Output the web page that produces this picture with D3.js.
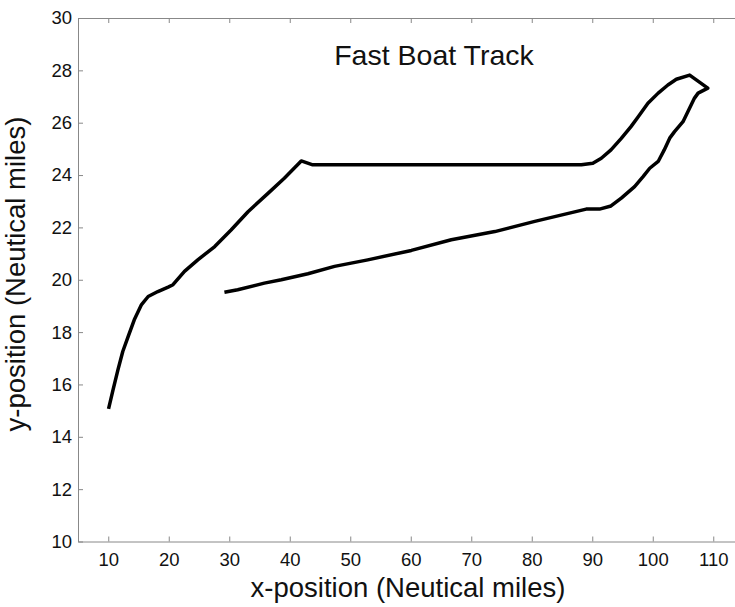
<!DOCTYPE html>
<html>
<head>
<meta charset="utf-8">
<script src="https://cdn.jsdelivr.net/npm/d3@7"></script>
<style>
  body { margin: 0; background: #fff; }
  svg { display: block; }
  .axis path, .axis line { stroke: #888; }
  .axis text { font-family: "Liberation Sans", Arial, sans-serif; font-size: 18.5px; fill: #111; }
  .label { font-family: "Liberation Sans", Arial, sans-serif; fill: #111; }
</style>
</head>
<body>
<div id="chartArea"></div>
<script>
// Daten: Bahn des Bootes (x, y in Seemeilen), in Fahrtrichtung
const trackX = [10.05, 10.8, 11.6, 12.4, 13.3, 14.3, 15.5, 16.6, 18.2, 19.9, 20.7, 22.6, 24.8, 27.6, 30.3, 33.1, 36.4, 39.1, 41.9,
  43.8, 60, 88.2, 90.1, 91.5, 93.1, 94.8, 96.4, 97.6, 99.2, 100.9, 102.5, 103.9, 106.1, 109.1,
  107.5, 106.9, 105.8, 105.0, 103.6, 102.8, 101.9, 100.9, 99.5, 98.4, 97.0, 94.8, 93.1, 91.2, 89.0,
  80.5, 73.9, 66.7, 60.1, 52.9, 47.4, 43.0, 38.6, 35.8, 31.4, 29.2];
const trackY = [15.07, 15.8, 16.56, 17.26, 17.84, 18.47, 19.05, 19.36, 19.55, 19.72, 19.81, 20.32, 20.76, 21.27, 21.9, 22.6, 23.3, 23.88, 24.54,
  24.39, 24.39, 24.39, 24.45, 24.64, 24.96, 25.4, 25.85, 26.23, 26.74, 27.13, 27.44, 27.66, 27.82, 27.32,
  27.13, 26.94, 26.42, 26.04, 25.66, 25.41, 24.96, 24.52, 24.26, 23.94, 23.56, 23.12, 22.82, 22.7, 22.7,
  22.23, 21.84, 21.53, 21.12, 20.76, 20.51, 20.23, 20.0, 19.87, 19.62, 19.52];
const xTicks = [10, 20, 30, 40, 50, 60, 70, 80, 90, 100, 110];
const yTicks = [10, 12, 14, 16, 18, 20, 22, 24, 26, 28, 30];

const width = 735, height = 607;
const plotLeft = 78, plotTop = 18, plotBottom = 541.5, plotRight = 743.5;

const svg = d3.select("#chartArea").append("svg")
    .attr("width", width)
    .attr("height", height);

const xScale = d3.scaleLinear().domain([5, 115]).range([plotLeft, plotRight]);
const yScale = d3.scaleLinear().domain([10, 30]).range([plotBottom, plotTop]);

// Achsen (Ticks nach innen)
svg.append("g")
    .attr("class", "axis")
    .attr("transform", `translate(0,${plotBottom})`)
    .call(d3.axisBottom(xScale).tickValues(xTicks).tickSizeInner(-5).tickSizeOuter(0).tickPadding(11));

svg.append("g")
    .attr("class", "axis")
    .attr("transform", `translate(0,${plotTop})`)
    .call(d3.axisTop(xScale).tickValues(xTicks).tickSizeInner(-5).tickSizeOuter(0).tickFormat(""));

svg.append("g")
    .attr("class", "axis")
    .attr("transform", `translate(${plotLeft},0)`)
    .call(d3.axisLeft(yScale).tickValues(yTicks).tickSizeInner(-5).tickSizeOuter(0).tickPadding(6));

svg.append("g")
    .attr("class", "axis")
    .attr("transform", `translate(${plotRight},0)`)
    .call(d3.axisRight(yScale).tickValues(yTicks).tickSizeInner(-5).tickSizeOuter(0).tickFormat(""));

// Linie
const line = d3.line()
    .x((d, i) => xScale(trackX[i]))
    .y((d, i) => yScale(trackY[i]));

svg.append("path")
    .datum(trackX)
    .attr("d", line)
    .attr("fill", "none")
    .attr("stroke", "#000")
    .attr("stroke-width", 3.5)
    .attr("stroke-linejoin", "round");

// Beschriftungen
svg.append("text")
    .attr("class", "label")
    .attr("x", 434)
    .attr("y", 65)
    .attr("text-anchor", "middle")
    .style("font-size", "28.5px")
    .text("Fast Boat Track");

svg.append("text")
    .attr("class", "label")
    .attr("x", 408)
    .attr("y", 597)
    .attr("text-anchor", "middle")
    .style("font-size", "27.5px")
    .text("x-position (Neutical miles)");

svg.append("text")
    .attr("class", "label")
    .attr("transform", "translate(25,274) rotate(-90)")
    .attr("text-anchor", "middle")
    .style("font-size", "27.5px")
    .text("y-position (Neutical miles)");
</script>
</body>
</html>
